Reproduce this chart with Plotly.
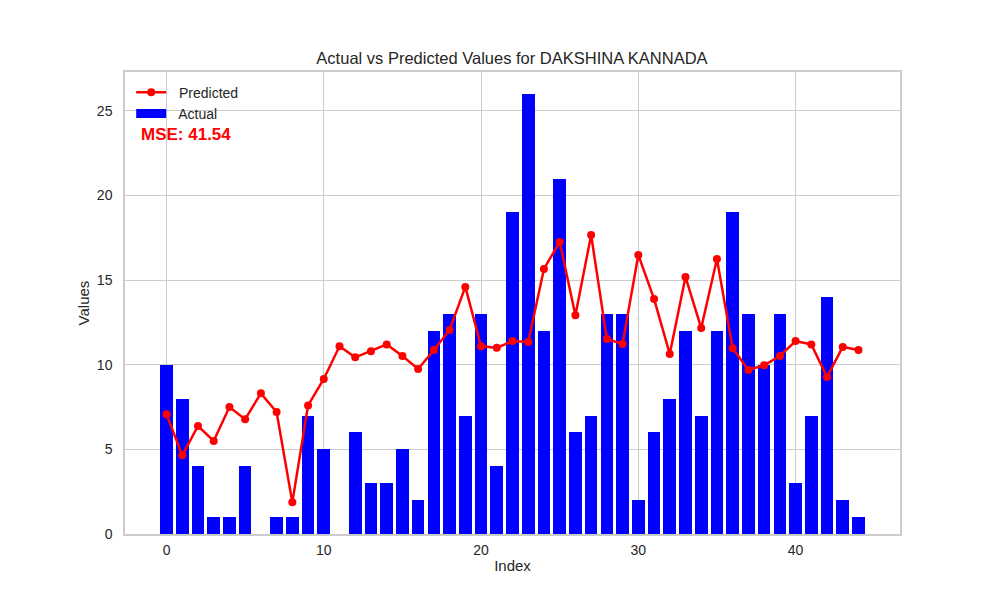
import plotly.graph_objects as go

index = list(range(45))
actual = [10, 8, 4, 1, 1, 4, 0, 1, 1, 7, 5, 0, 6, 3, 3, 5, 2, 12, 13, 7,
          13, 4, 19, 26, 12, 21, 6, 7, 13, 13, 2, 6, 8, 12, 7, 12, 19, 13, 10, 13,
          3, 7, 14, 2, 1]
predicted = [7.07, 4.65, 6.38, 5.50, 7.50, 6.78, 8.31, 7.21, 1.87, 7.60,
             9.16, 11.09, 10.44, 10.80, 11.20, 10.52, 9.75, 10.87, 12.06, 14.60,
             11.10, 11.00, 11.40, 11.35, 15.66, 17.26, 12.92, 17.67, 11.52, 11.23,
             16.49, 13.89, 10.64, 15.19, 12.17, 16.25, 10.97, 9.69, 9.97, 10.52,
             11.40, 11.20, 9.28, 11.05, 10.87]
mse = 41.54
district = "DAKSHINA KANNADA"

x_ticks = [0, 10, 20, 30, 40]
y_ticks = [0, 5, 10, 15, 20, 25]

txt = "#262626"
grid = "#cccccc"

fig = go.Figure()
fig.add_trace(go.Bar(
    x=index, y=actual, name="Actual", width=0.8,
    marker=dict(color="#0000ff", line=dict(width=0)),
    showlegend=False,
))
fig.add_trace(go.Scatter(
    x=index, y=predicted, name="  Predicted", mode="lines+markers",
    line=dict(color="#ff0000", width=2.5),
    marker=dict(color="#ff0000", size=8),
    legendrank=1,
))
# legend entry for the bars, drawn as a wide patch like matplotlib
fig.add_trace(go.Scatter(
    x=[None], y=[None], name="  Actual", mode="lines",
    line=dict(color="#0000ff", width=9),
    legendrank=2,
))

fig.add_annotation(
    text="<b>MSE: %.2f</b>" % mse, xref="paper", yref="paper",
    x=0.018, y=0.865, xanchor="left", yanchor="middle", showarrow=False,
    font=dict(color="#ff0000", size=17, family="Liberation Sans, Arial"),
)

# page body adds 8px margin, so shift the plot area up/left by that much
fig.update_layout(
    width=1000, height=600,
    margin=dict(l=117, r=108, t=64, b=74),
    plot_bgcolor="white", paper_bgcolor="white",
    font=dict(family="Liberation Sans, Arial", color=txt, size=14),
    title=dict(text="Actual vs Predicted Values for " + district,
               x=0.504, xanchor="center", y=0.917, yanchor="middle",
               font=dict(size=16.5, color=txt)),
    bargap=0,
    showlegend=True,
    legend=dict(x=0.008, y=0.99, xanchor="left", yanchor="top",
                bgcolor="rgba(255,255,255,0)", font=dict(size=14, color=txt),
                tracegroupgap=0),
    xaxis=dict(range=[-2.64, 46.64], tickvals=x_ticks, showgrid=True,
               gridcolor=grid, gridwidth=1, zeroline=False,
               showline=True, linecolor=grid, linewidth=1.5, mirror=True,
               ticks="", ticklabelstandoff=2,
               title=dict(text="Index", font=dict(size=15, color=txt), standoff=4)),
    yaxis=dict(range=[0, 27.3], tickvals=y_ticks, showgrid=True,
               gridcolor=grid, gridwidth=1, zeroline=False,
               showline=True, linecolor=grid, linewidth=1.5, mirror=True,
               ticks="", ticklabelstandoff=8,
               title=dict(text="Values", font=dict(size=15, color=txt), standoff=4)),
)

fig.write_html("out.html")
